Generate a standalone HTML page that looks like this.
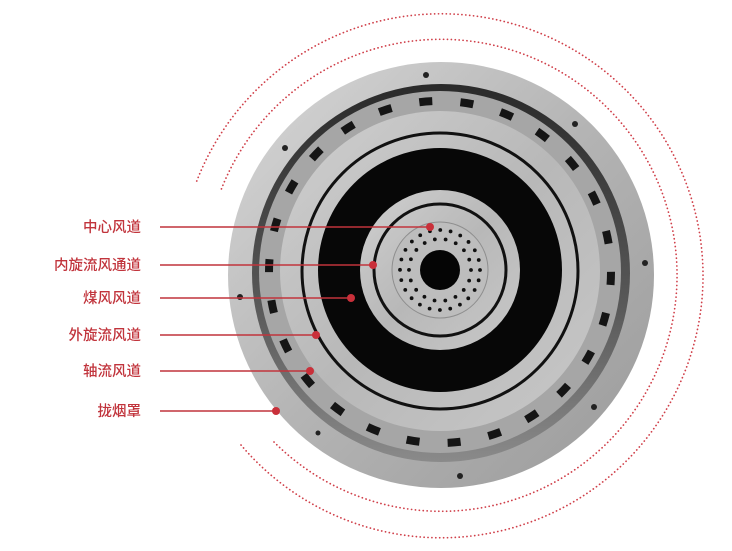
<!DOCTYPE html>
<html><head><meta charset="utf-8"><style>
html,body{margin:0;padding:0;background:#fff;}
svg{display:block;}
text{font-family:"Liberation Sans","Noto Sans CJK SC",sans-serif;font-size:14.5px;fill:#c1343c;font-weight:500;}
</style></head><body>
<svg width="732" height="551" viewBox="0 0 732 551" xmlns="http://www.w3.org/2000/svg">
<defs>
<linearGradient id="rim" x1="0" y1="0" x2="1" y2="1">
<stop offset="0" stop-color="#d8d8d8"/><stop offset="0.5" stop-color="#b4b4b4"/><stop offset="1" stop-color="#9a9a9a"/>
</linearGradient>
<linearGradient id="band" x1="0" y1="0" x2="0" y2="1">
<stop offset="0" stop-color="#2a2a2a"/><stop offset="0.6" stop-color="#5a5a5a"/><stop offset="1" stop-color="#8a8a8a"/>
</linearGradient>
<linearGradient id="light" x1="0" y1="0" x2="1" y2="1">
<stop offset="0" stop-color="#d0d0d0"/><stop offset="0.5" stop-color="#b8b8b8"/><stop offset="1" stop-color="#c8c8c8"/>
</linearGradient>
</defs>
<path d="M241 445 A262 262 0 1 0 196 183" fill="none" stroke="#d0404a" stroke-width="1.7" stroke-dasharray="0.1 3.8" stroke-linecap="round"/>
<path d="M274 442 A236 236 0 1 0 221 190" fill="none" stroke="#d0404a" stroke-width="1.7" stroke-dasharray="0.1 3.8" stroke-linecap="round"/>
<circle cx="441" cy="275" r="213" fill="url(#rim)"/>
<circle cx="441" cy="273" r="189" fill="url(#band)"/>
<circle cx="440" cy="272" r="181" fill="#a6a6a6"/>
<circle cx="440" cy="272" r="171" fill="none" stroke="#151515" stroke-width="8" stroke-dasharray="13 28.3"/>
<circle cx="440" cy="271" r="160" fill="url(#light)"/>
<circle cx="440" cy="271" r="138" fill="none" stroke="#111" stroke-width="3"/>
<circle cx="440" cy="270" r="122" fill="#070707"/>
<circle cx="440" cy="270" r="80" fill="url(#light)"/>
<circle cx="440" cy="270" r="66" fill="none" stroke="#111" stroke-width="3"/>
<circle cx="440" cy="270" r="48" fill="#bdbdbd" stroke="#8e8e8e" stroke-width="1"/>
<circle cx="440" cy="270" r="40" fill="none" stroke="#111" stroke-width="3.8" stroke-dasharray="0 10.47" stroke-linecap="round"/>
<circle cx="440" cy="270" r="31" fill="none" stroke="#111" stroke-width="3.8" stroke-dasharray="0 10.82" stroke-linecap="round"/>
<circle cx="440" cy="270" r="20" fill="#050505"/>
<g fill="#222">
<circle cx="426" cy="75" r="3"/><circle cx="575" cy="124" r="3"/><circle cx="645" cy="263" r="3"/>
<circle cx="594" cy="407" r="3"/><circle cx="460" cy="476" r="3"/><circle cx="240" cy="297" r="3"/>
<circle cx="285" cy="148" r="3"/><circle cx="318" cy="433" r="2.5"/>
</g>
<g stroke="#c1343c" stroke-width="1.5">
<line x1="160" y1="227" x2="430" y2="227"/>
<line x1="160" y1="265" x2="373" y2="265"/>
<line x1="160" y1="298" x2="351" y2="298"/>
<line x1="160" y1="335" x2="316" y2="335"/>
<line x1="160" y1="371" x2="310" y2="371"/>
<line x1="160" y1="411" x2="276" y2="411"/>
</g>
<g fill="#c9303a">
<circle cx="430" cy="227" r="4"/><circle cx="373" cy="265" r="4"/><circle cx="351" cy="298" r="4"/>
<circle cx="316" cy="335" r="4"/><circle cx="310" cy="371" r="4"/><circle cx="276" cy="411" r="4"/>
</g>
<g text-anchor="end">
<text x="141" y="232">中心风道</text>
<text x="141" y="270">内旋流风通道</text>
<text x="141" y="303">煤风风道</text>
<text x="141" y="340">外旋流风道</text>
<text x="141" y="376">轴流风道</text>
<text x="141" y="416">拢烟罩</text>
</g>
</svg>
</body></html>
